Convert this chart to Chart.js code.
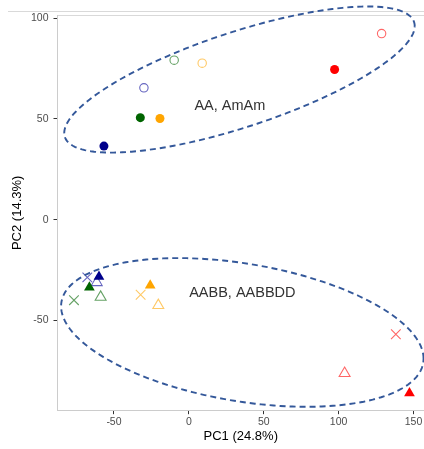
<!DOCTYPE html>
<html>
<head>
<meta charset="utf-8">
<script src="https://cdn.jsdelivr.net/npm/chart.js@4.4.1/dist/chart.umd.min.js"></script>
<style>
  html, body { margin: 0; padding: 0; background: #fff; }
  #wrap { width: 424px; height: 449px; }
</style>
</head>
<body>
<div id="wrap"><canvas id="pca" width="424" height="449"></canvas></div>
<script>
// ---- data ----
// colour order in every group: red, orange, green, navy
const groupColors = ['#FF0000', '#FFA500', '#006400', '#00008B'];
const openColors  = ['#FF6666', '#FFC966', '#66A266', '#6666C0'];

// AA / AmAm : filled + open circles
const filledCircleX = [97.3, -19.3, -32.4, -56.7];
const filledCircleY = [74.5, 50.2, 50.6, 36.5];
const openCircleX   = [128.7, 8.9, -9.8, -30.0];
const openCircleY   = [92.3, 77.6, 79.1, 65.4];

// AABB / AABBDD : filled triangles, open triangles, crosses
const filledTriX = [147.3, -25.8, -66.4, -60.0];
const filledTriY = [-86.0, -32.6, -33.6, -28.2];
const openTriX   = [104.0, -20.4, -58.9, -61.5];
const openTriY   = [-76.2, -42.5, -38.4, -31.1];
const crossX     = [138.2, -32.2, -76.7, -67.8];
const crossY     = [-56.8, -37.2, -39.9, -28.6];

// group ellipses: centre, semi-diameter P and its (vertical) conjugate Q, in data units
const ellipseCenter = [[33.8, 69.5], [35.7, -55.9]];
const ellipseP      = [[117, 26.5], [121, -13]];
const ellipseQ      = [[0, 24.7], [0, 34.5]];

const labelText = ['AA, AmAm', 'AABB, AABBDD'];
const labelX    = [27.4, 35.7];
const labelY    = [56.5, -36.2];

const xTicks = [-50, 0, 50, 100, 150];
const yTicks = [-50, 0, 50, 100];
const xTitle = 'PC1 (24.8%)';
const yTitle = 'PC2 (14.3%)';

// ---- helpers ----
function pts(xs, ys) {
  return xs.map((x, i) => ({ x: x, y: ys[i] }));
}

function ellipsePoints(k) {
  const out = [];
  const c = ellipseCenter[k], p = ellipseP[k], q = ellipseQ[k];
  for (let i = 0; i <= 180; i++) {
    const t = i / 180 * Math.PI * 2;
    out.push({ x: c[0] + p[0] * Math.cos(t) + q[0] * Math.sin(t),
               y: c[1] + p[1] * Math.cos(t) + q[1] * Math.sin(t) });
  }
  return out;
}

function ellipseSet(k) {
  return {
    type: 'line',
    data: ellipsePoints(k),
    borderColor: '#34589A',
    borderWidth: 1.9,
    borderDash: [6, 4],
    pointRadius: 0,
    fill: false,
    tension: 0,
    clip: false,
    order: 0
  };
}

// extra decoration + text labels
const extras = {
  id: 'extras',
  beforeDraw(chart) {
    const ctx = chart.ctx;
    ctx.save();
    ctx.strokeStyle = '#d9d9d9';
    ctx.lineWidth = 1;
    ctx.beginPath();
    ctx.moveTo(8, 11.5); ctx.lineTo(424, 11.5);
    ctx.moveTo(chart.chartArea.left, 15.5); ctx.lineTo(424, 15.5);
    ctx.stroke();
    ctx.restore();
  },
  afterDatasetsDraw(chart) {
    const ctx = chart.ctx;
    const xs = chart.scales.x, ys = chart.scales.y;
    ctx.save();
    ctx.fillStyle = '#333333';
    ctx.font = '14.5px "Liberation Sans", Arial, sans-serif';
    ctx.textAlign = 'center';
    ctx.textBaseline = 'middle';
    labelText.forEach((t, i) => {
      ctx.fillText(t, xs.getPixelForValue(labelX[i]), ys.getPixelForValue(labelY[i]));
    });
    ctx.restore();
  }
};

function noPad(s) {
  s.paddingLeft = 0; s.paddingRight = 0; s.paddingTop = 0; s.paddingBottom = 0;
}

const tickFont = { family: '"Liberation Sans", Arial, sans-serif', size: 10.5 };
const titleFont = { family: '"Liberation Sans", Arial, sans-serif', size: 13 };

new Chart(document.getElementById('pca'), {
  type: 'scatter',
  data: {
    datasets: [
      {
        data: pts(filledCircleX, filledCircleY),
        pointStyle: 'circle', pointRadius: 4.5,
        backgroundColor: groupColors, borderColor: groupColors, borderWidth: 0, order: 1
      },
      {
        data: pts(openCircleX, openCircleY),
        pointStyle: 'circle', pointRadius: 4.2,
        backgroundColor: 'rgba(0,0,0,0)', borderColor: openColors, borderWidth: 1.1, order: 1
      },
      {
        data: pts(filledTriX, filledTriY),
        pointStyle: 'triangle', pointRadius: 6.2,
        backgroundColor: groupColors, borderColor: groupColors, borderWidth: 0, order: 1
      },
      {
        data: pts(openTriX, openTriY),
        pointStyle: 'triangle', pointRadius: 6.3,
        backgroundColor: 'rgba(0,0,0,0)', borderColor: openColors, borderWidth: 1.1, order: 1
      },
      {
        data: pts(crossX, crossY),
        pointStyle: 'crossRot', pointRadius: 6.8,
        backgroundColor: openColors, borderColor: openColors, borderWidth: 1.1, order: 1
      },
      ellipseSet(0),
      ellipseSet(1)
    ]
  },
  options: {
    responsive: false,
    animation: false,
    events: [],
    layout: { autoPadding: false, padding: { top: 15, right: 0, left: 0, bottom: 0 } },
    plugins: { legend: { display: false }, tooltip: { enabled: false } },
    scales: {
      x: {
        type: 'linear', min: -87.7, max: 157,
        afterBuildTicks: s => { s.ticks = xTicks.map(v => ({ value: v })); },
        afterFit: s => { s.height = 38.3; noPad(s); },
        border: { color: '#cccccc', width: 1 },
        grid: { drawOnChartArea: false, tickLength: 3.5, tickColor: '#333333' },
        ticks: { color: '#4d4d4d', font: tickFont, padding: 2, maxRotation: 0 },
        title: { display: true, text: xTitle, color: '#000', font: titleFont, padding: { top: 0, bottom: 4.5 } }
      },
      y: {
        type: 'linear', min: -94.7, max: 101.5,
        afterBuildTicks: s => { s.ticks = yTicks.map(v => ({ value: v })); },
        afterFit: s => { s.width = 57.5; noPad(s); },
        border: { color: '#cccccc', width: 1 },
        grid: { drawOnChartArea: false, tickLength: 4, tickColor: '#333333' },
        ticks: { color: '#4d4d4d', font: tickFont, padding: 5 },
        title: { display: true, text: yTitle, color: '#000', font: titleFont, padding: { top: 10, bottom: 0 } }
      }
    }
  },
  plugins: [extras]
});
</script>
</body>
</html>
